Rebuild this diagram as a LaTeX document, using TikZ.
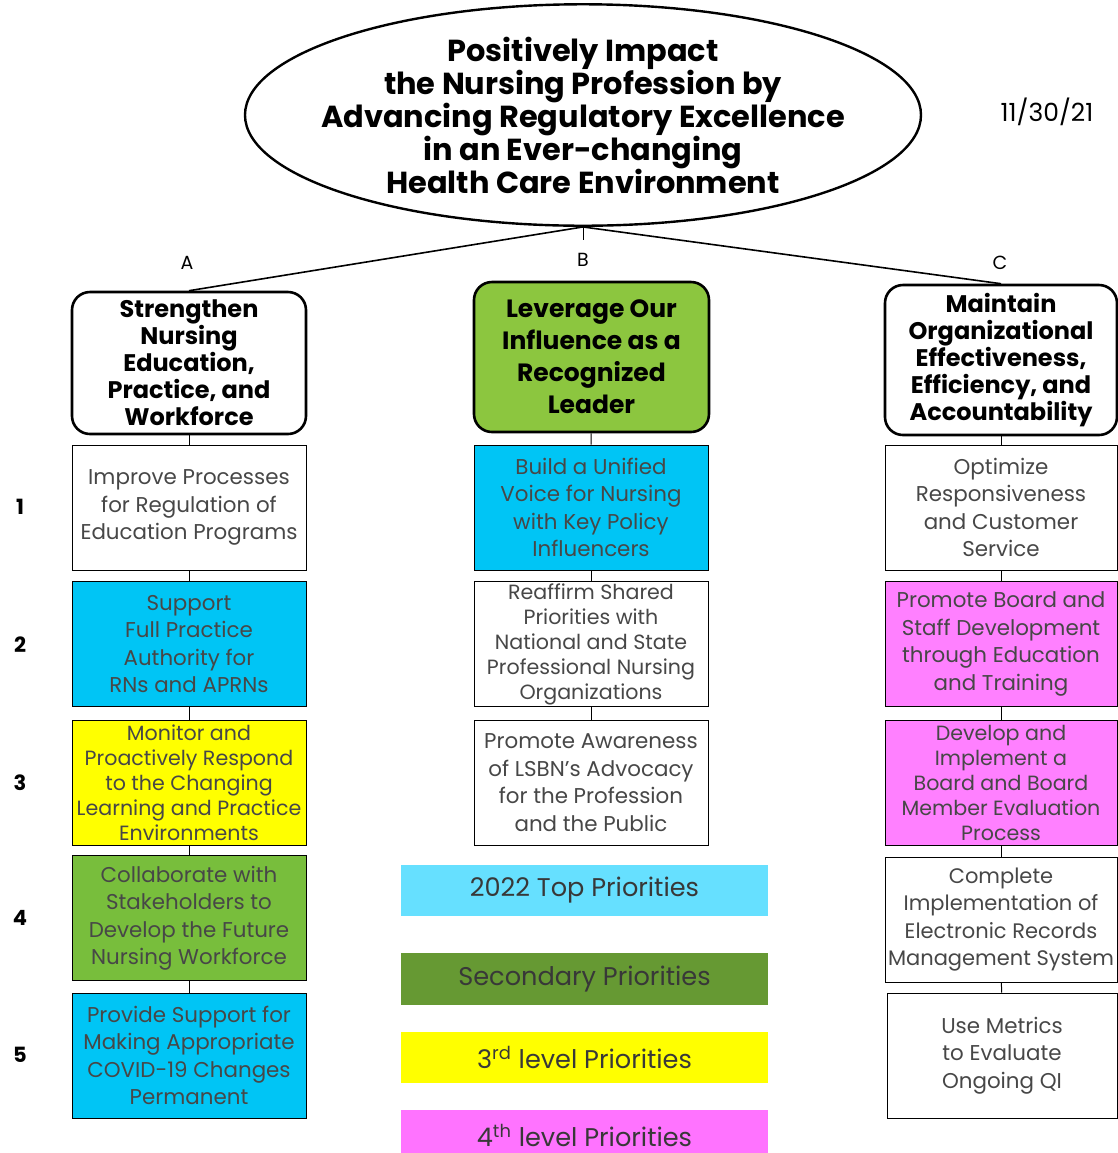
\documentclass[tikz,border=0pt]{standalone}
\usepackage{fontspec}
\setmainfont{Poppins}
\usetikzlibrary{shapes.geometric}

\definecolor{topcyan}{HTML}{00C5F5}
\definecolor{leadgreen}{HTML}{8CC63F}
\definecolor{secgreen}{HTML}{78BE3C}
\definecolor{thirdyellow}{HTML}{FFFF00}
\definecolor{fourthpink}{HTML}{FF80FF}
\definecolor{keycyan}{HTML}{66E0FF}
\definecolor{keygreen}{HTML}{669933}
\definecolor{keypink}{HTML}{FF73FF}

\begin{document}
\begin{tikzpicture}[x=0.5pt,y=-0.5pt,
  goal/.style={ellipse,draw,line width=1.2pt,minimum width=338pt,minimum height=100pt,
    inner xsep=-12pt,inner ysep=0pt,align=center,font=\bfseries\fontsize{15.2}{16.5}\selectfont},
  strat/.style={draw,rounded corners=9pt,line width=1.3pt,inner sep=1pt,align=center,
    font=\bfseries\fontsize{12}{13.5}\selectfont},
  item/.style={draw,line width=0.5pt,minimum width=117pt,minimum height=62.5pt,inner sep=0pt,
    align=center,text=black!72,font=\fontsize{10.7}{13.75}\selectfont},
  tight/.style={font=\fontsize{10.3}{12.5}\selectfont},
  keybar/.style={minimum width=183.5pt,minimum height=25.5pt,inner sep=0pt,text=black!78,
    font=\fontsize{12.8}{14}\selectfont},
  rownum/.style={font=\bfseries\fontsize{10.5}{12}\selectfont},
  link/.style={line width=0.5pt}]
\useasboundingbox[fill=white] (0,0) rectangle (1118,1153);

% mission
\node[goal] (goal) at (583,115) {Positively Impact\\the Nursing Profession by\\Advancing Regulatory Excellence\\in an Ever-changing\\Health Care Environment};
\node[font=\fontsize{12.5}{14}\selectfont] (date) at (1047,112) {11/30/21};

% strategic goals
\node[strat,minimum width=117pt,minimum height=71pt] (stratA) at (189,363) {Strengthen\\Nursing\\Education,\\Practice, and\\Workforce};
\node[strat,fill=leadgreen,minimum width=117.5pt,minimum height=75pt,font=\bfseries\fontsize{12.5}{16}\selectfont] (stratB) at (591.5,357) {Leverage Our\\Influence as a\\Recognized\\Leader};
\node[strat,minimum width=116pt,minimum height=75pt] (stratC) at (1001,360) {Maintain\\Organizational\\Effectiveness,\\Efficiency, and\\Accountability};
\coordinate (tickB) at (583,240);
\node[font=\fontsize{9.5}{11}\selectfont] (labA) at (187,263) {A};
\node[font=\fontsize{9.5}{11}\selectfont] (labB) at (583,260) {B};
\node[font=\fontsize{9.5}{11}\selectfont] (labC) at (1000,263) {C};

% row numbers
\node[rownum] (num1) at (20,507) {1};
\node[rownum] (num2) at (20,645) {2};
\node[rownum] (num3) at (20,783) {3};
\node[rownum] (num4) at (20,918) {4};
\node[rownum] (num5) at (20,1055) {5};

% column A
\node[item] (a1) at (189,507.5) {Improve Processes\\for Regulation of\\Education Programs};
\node[item,fill=topcyan] (a2) at (189,644) {Support\\Full Practice\\Authority for\\RNs and APRNs};
\node[item,tight,fill=thirdyellow] (a3) at (189,782.5) {Monitor and\\Proactively Respond\\to the Changing\\Learning and Practice\\Environments};
\node[item,fill=secgreen] (a4) at (189,918) {Collaborate with\\Stakeholders to\\Develop the Future\\Nursing Workforce};
\node[item,fill=topcyan] (a5) at (189,1055.5) {Provide Support for\\Making Appropriate\\COVID-19 Changes\\Permanent};

% column B
\node[item,fill=topcyan] (b1) at (591,507.5) {Build a Unified\\Voice for Nursing\\with Key Policy\\Influencers};
\node[item,tight] (b2) at (591,644) {Reaffirm Shared\\Priorities with\\National and State\\Professional Nursing\\Organizations};
\node[item] (b3) at (591,782.5) {Promote Awareness\\of LSBN's Advocacy\\for the Profession\\and the Public};

% column C
\node[item,minimum width=116pt] (c1) at (1001,507.5) {Optimize\\Responsiveness\\and Customer\\Service};
\node[item,minimum width=116pt,fill=fourthpink] (c2) at (1001,644) {Promote Board and\\Staff Development\\through Education\\and Training};
\node[item,tight,minimum width=116pt,fill=fourthpink] (c3) at (1001,782.5) {Develop and\\Implement a\\Board and Board\\Member Evaluation\\Process};
\node[item,minimum width=116pt,font=\fontsize{10.5}{13.75}\selectfont] (c4) at (1001,919.5) {Complete\\Implementation of\\Electronic Records\\Management System};
\node[item,minimum width=115pt] (c5) at (1002,1055.5) {Use Metrics\\to Evaluate\\Ongoing QI};

% key
\node[keybar,fill=keycyan] (key1) at (584.5,890.5) {2022 Top Priorities};
\node[keybar,fill=keygreen,minimum height=26pt] (key2) at (584.5,979) {Secondary Priorities};
\node[keybar,fill=thirdyellow] (key3) at (584.5,1057.5) {3\textsuperscript{rd} level Priorities};
\node[keybar,fill=keypink] (key4) at (584.5,1135.5) {4\textsuperscript{th} level Priorities};

% connectors
\draw[link,line width=0.8pt] (goal.south) -- (stratA.north);
\draw[link,line width=0.8pt] (goal.south) -- (stratC.north);
\draw[link] (goal.south) -- (tickB);
\draw[link] (stratA) -- (a1);
\draw[link] (a1) -- (a2);
\draw[link] (a2) -- (a3);
\draw[link] (a3) -- (a4);
\draw[link] (a4) -- (a5);
\draw[link] (stratB) -- (b1);
\draw[link] (b1) -- (b2);
\draw[link] (b2) -- (b3);
\draw[link] (stratC) -- (c1);
\draw[link] (c1) -- (c2);
\draw[link] (c2) -- (c3);
\draw[link] (c3) -- (c4);
\draw[link] (c4) -- (c5);
\end{tikzpicture}
\end{document}
